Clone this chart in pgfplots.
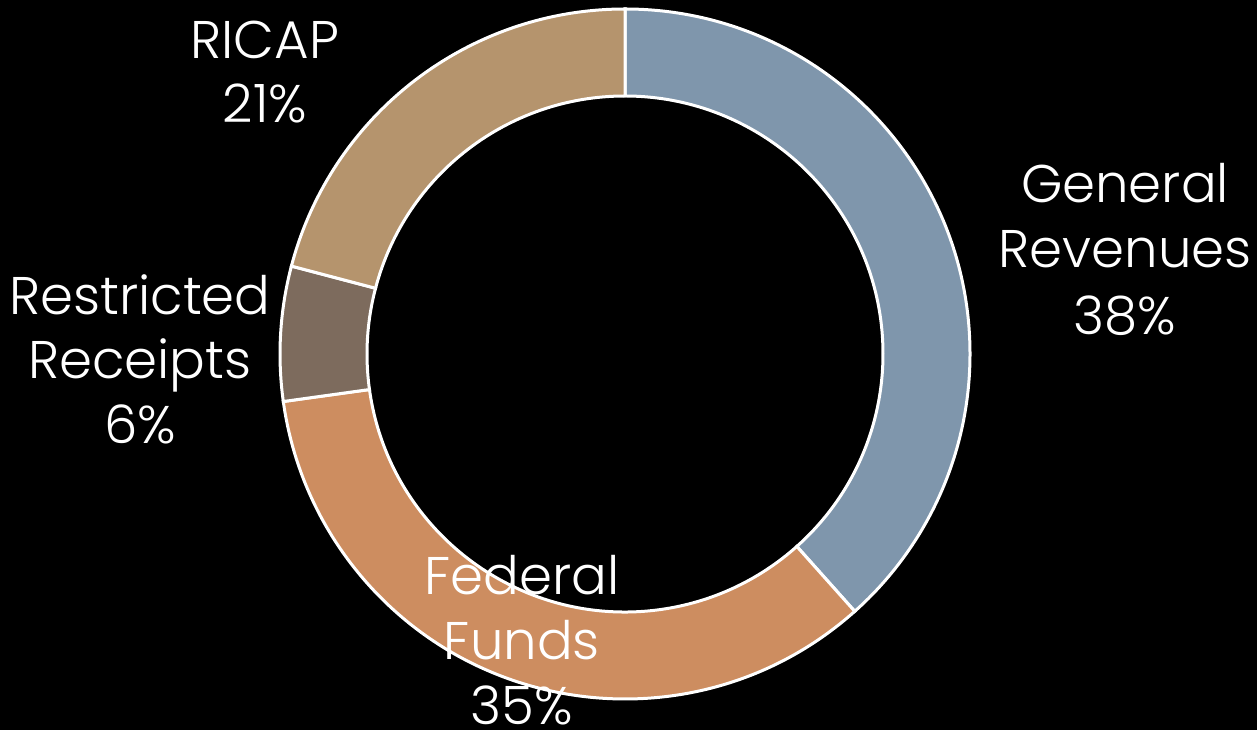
\documentclass[border=0pt]{standalone}
\usepackage{pgfplots}
\pgfplotsset{compat=1.18}
\usepackage{pgfplotstable}
\usepackage{fontspec}
\setmainfont{Poppins}[UprightFont=* Light]
\usetikzlibrary{calc}
\definecolor{genrev}{HTML}{7F96AC}
\definecolor{fedfund}{HTML}{CD8D60}
\definecolor{restr}{HTML}{7D6B5D}
\definecolor{ricap}{HTML}{B5946D}
\pgfplotstableread{
name value col
GeneralRevenues 38.4 genrev
FederalFunds 34.4 fedfund
RestrictedReceipts 6.3 restr
RICAP 20.9 ricap
}\shares
\begin{document}
\begin{tikzpicture}
\begin{axis}[
  width=1257pt, height=730pt, scale only axis,
  xmin=0, xmax=1257, ymin=0, ymax=730,
  hide axis, clip=false,
]
\addplot[draw=none, fill=black] coordinates {(0,0) (1257,0) (1257,730) (0,730)} -- cycle;
\pgfplotsextra{
  \pgfmathsetmacro{\cum}{0}
  \foreach \i in {0,1,2,3}{
    \pgfplotstablegetelem{\i}{value}\of\shares
    \let\val\pgfplotsretval
    \pgfplotstablegetelem{\i}{col}\of\shares
    \let\col\pgfplotsretval
    \pgfmathsetmacro{\aone}{90-3.6*\cum}
    \pgfmathsetmacro{\atwo}{90-3.6*(\cum+\val)}
    \fill[\col, draw=white, line width=3pt, line join=miter]
      ($(axis cs:625,376)+(\aone:345pt)$) arc[start angle=\aone, end angle=\atwo, radius=345pt]
      -- ($(axis cs:625,376)+(\atwo:258pt)$) arc[start angle=\atwo, end angle=\aone, radius=258pt]
      -- cycle;
    \pgfmathsetmacro{\newcum}{\cum+\val}
    \global\let\cum\newcum
  }
}
\tikzset{lbl/.style={text=white, anchor=base, font=\fontsize{53}{65}\selectfont, inner sep=0pt}}
\node[lbl] at (axis cs:1125,527) {General};
\node[lbl] at (axis cs:1125,462) {Revenues};
\node[lbl] at (axis cs:1125,395) {38\%};
\node[lbl] at (axis cs:522,135) {Federal};
\node[lbl] at (axis cs:522,70) {Funds};
\node[lbl] at (axis cs:522,5) {35\%};
\node[lbl] at (axis cs:140,415) {Restricted};
\node[lbl] at (axis cs:140,351) {Receipts};
\node[lbl] at (axis cs:140,286) {6\%};
\node[lbl] at (axis cs:265,671) {RICAP};
\node[lbl] at (axis cs:265,607) {21\%};
\end{axis}
\end{tikzpicture}
\end{document}
